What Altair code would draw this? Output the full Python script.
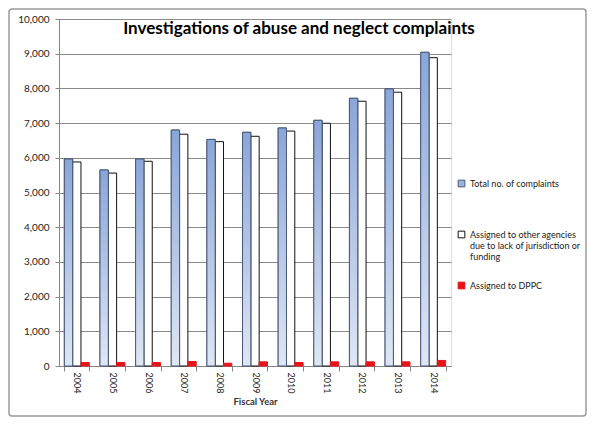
import pandas as pd
import altair as alt

years = ['2004', '2005', '2006', '2007', '2008', '2009', '2010', '2011', '2012', '2013', '2014']
total = [5965, 5650, 5965, 6800, 6530, 6735, 6860, 7080, 7715, 7985, 9040]
other = [5880, 5560, 5900, 6680, 6465, 6620, 6770, 6995, 7630, 7890, 8885]
dppc = [100, 100, 100, 130, 80, 120, 100, 120, 120, 120, 160]

series = ['Total no. of complaints',
          'Assigned to other agencies due to lack of jurisdiction or funding',
          'Assigned to DPPC']

df = pd.concat([
    pd.DataFrame({'year': years, 'series': series[0], 'value': total}),
    pd.DataFrame({'year': years, 'series': series[1], 'value': other}),
    pd.DataFrame({'year': years, 'series': series[2], 'value': dppc}),
])

font = 'Lato'

x_enc = alt.X('year:N', title='Fiscal Year',
    scale=alt.Scale(paddingInner=0.3, paddingOuter=0.15),
    axis=alt.Axis(labelAngle=90, labelAlign='left', labelBaseline='middle',
                  labelPadding=1, labelFontSize=9, labelColor='#222',
                  tickBand='extent', tickSize=5, tickColor='#868686',
                  domainColor='#868686', titleFontSize=9.5, titleFontWeight='bold',
                  titleColor='#333', titleY=38, titleBaseline='alphabetic'))
off_enc = alt.XOffset('series:N', sort=series, scale=alt.Scale(domain=series))
y_enc = alt.Y('value:Q', title=None,
    scale=alt.Scale(domain=[0, 10000]),
    axis=alt.Axis(values=list(range(0, 10001, 1000)), format=',.0f',
                  labelFontSize=10, labelColor='#222', labelPadding=6,
                  tickSize=4, tickColor='#868686', domainColor='#868686',
                  gridColor='#8a8a8a'))

# legend labels wrapped like the original; blank lines keep rows evenly spaced
label_expr = ("datum.label == '" + series[1] + "' ? "
              "['Assigned to other agencies', 'due to lack of jurisdiction or', 'funding'] "
              ": datum.label == '" + series[0] + "' ? [datum.label, '', ''] : datum.label")

bars = (
alt.Chart(df)
.mark_bar(strokeWidth=1)
.encode(
    x=x_enc,
    xOffset=off_enc,
    y=y_enc,
    color=alt.Color('series:N', sort=series,
        scale=alt.Scale(domain=series, range=['#9db3e0', '#ffffff', '#e8141b']),
        legend=alt.Legend(title=None, orient='none', legendX=398, legendY=160,
                          symbolType='square', symbolSize=45, symbolStrokeWidth=1,
                          labelFontSize=9, labelColor='#222', labelExpr=label_expr,
                          rowPadding=18, padding=0, labelLimit=200)),
    stroke=alt.Stroke('series:N', sort=series,
        scale=alt.Scale(domain=series, range=['#4a5a78', '#111111', '#e8141b']),
        legend=alt.Legend(title=None))))

gradient = alt.Gradient(
    gradient='linear', x1=0, x2=0, y1=0, y2=1,
    stops=[alt.GradientStop(color='#8aa5d8', offset=0),
           alt.GradientStop(color='#dfe7f4', offset=1)])

blue = (
alt.Chart(df)
.transform_filter(alt.datum.series == series[0])
.mark_bar(color=gradient, stroke='#4a5a78', strokeWidth=1)
.encode(x=x_enc, xOffset=off_enc, y=y_enc))

frame = (
alt.Chart(pd.DataFrame({'a': [0]}))
.mark_rect(fill=None, stroke='#9a9a9a', strokeWidth=1.5, cornerRadius=3)
.encode(x=alt.value(-50), x2=alt.value(527), y=alt.value(-10), y2=alt.value(397)))

chart = ((frame + bars + blue)
.properties(
    width=392, height=347,
    title=alt.TitleParams('Investigations of abuse and neglect complaints',
        anchor='middle', frame='group', fontSize=17, font=font, fontWeight='bold',
        color='#000', baseline='alphabetic', offset=0, dy=43, dx=44),
    autosize='none',
    padding={'left': 51, 'top': 11, 'right': 136, 'bottom': 51},
    background='white')
.configure_view(stroke=None)
.configure(font=font))

chart.save("out.html", embed_options={"renderer": "svg", "actions": False})
